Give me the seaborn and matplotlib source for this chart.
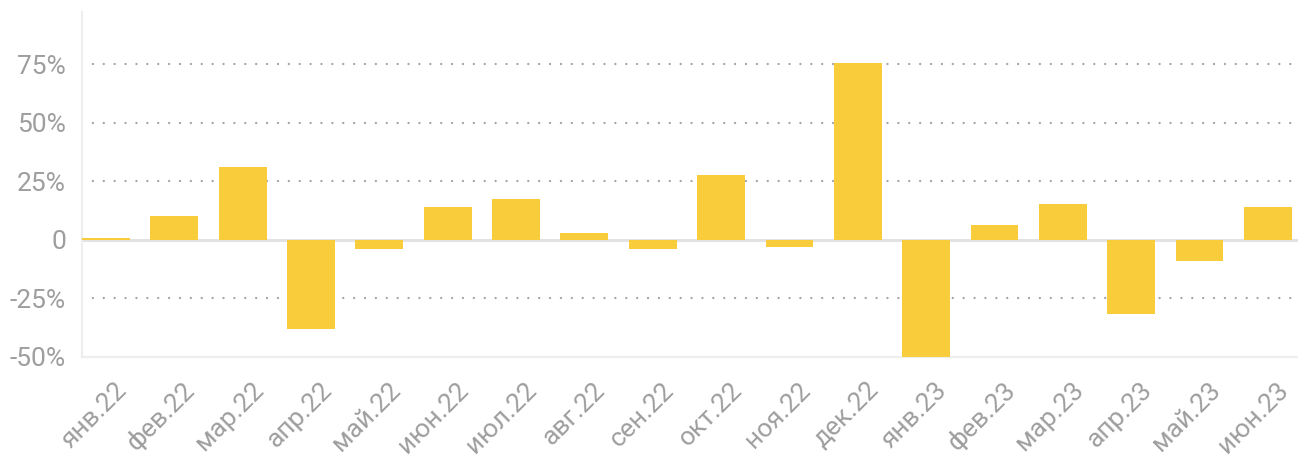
import matplotlib
matplotlib.use('Agg')
import matplotlib.pyplot as plt
import matplotlib.transforms as mtransforms
import seaborn as sns

# данные: изменение, % к предыдущему месяцу
months = ['янв.22', 'фев.22', 'мар.22', 'апр.22', 'май.22', 'июн.22',
          'июл.22', 'авг.22', 'сен.22', 'окт.22', 'ноя.22', 'дек.22',
          'янв.23', 'фев.23', 'мар.23', 'апр.23', 'май.23', 'июн.23']
values = [0.8, 10.0, 31.2, -38.2, -4.1, 14.0,
          17.5, 3.0, -4.0, 27.7, -3.0, 75.4,
          -50.0, 6.4, 15.3, -31.5, -8.8, 14.1]

y_ticks = [-50, -25, 0, 25, 50, 75]
y_labels = ['-50%', '-25%', '0', '25%', '50%', '75%']

bar_color = '#F9CC3B'
text_color = '#9E9E9E'

sns.set_style('white')
plt.rcParams['font.family'] = ['Roboto', 'DejaVu Sans']

fig = plt.figure(figsize=(12.98, 4.55), dpi=100)
ax = fig.add_axes([82 / 1298, 1 - 357 / 455, 1 - 82 / 1298, (357 - 12) / 455])

sns.barplot(x=months, y=values, color=bar_color, saturation=1, width=0.7,
            linewidth=0, edgecolor=bar_color, ax=ax, zorder=3)

# сетка
for t in y_ticks:
    if t in (0, -50):
        continue
    ax.axhline(t, color='#A4A4A4', lw=1.7, ls=(0, (0.01, 4.6)),
               dash_capstyle='round', zorder=1)
ax.axhline(0, color='#E2E2E2', lw=2.2, zorder=2)

ax.set_xlim(-0.35, 17.44)
ax.set_ylim(-50, 97.3)
ax.set_yticks(y_ticks)
ax.set_yticklabels(y_labels)

ax.tick_params(axis='both', length=0, labelsize=19, labelcolor=text_color)
ax.tick_params(axis='y', pad=11.5)
ax.tick_params(axis='x', pad=21)

offset = mtransforms.ScaledTranslation(17 / 100, 0, fig.dpi_scale_trans)
for lbl in ax.get_xticklabels():
    lbl.set_rotation(45)
    lbl.set_ha('right')
    lbl.set_va('center')
    lbl.set_rotation_mode('anchor')
    lbl.set_transform(lbl.get_transform() + offset)

for side in ('top', 'right'):
    ax.spines[side].set_visible(False)
for side in ('left', 'bottom'):
    ax.spines[side].set_color('#EEEEEE')
    ax.spines[side].set_linewidth(1.6)

ax.set_xlabel('')
ax.set_ylabel('')

fig.savefig('out.png', dpi=100)
